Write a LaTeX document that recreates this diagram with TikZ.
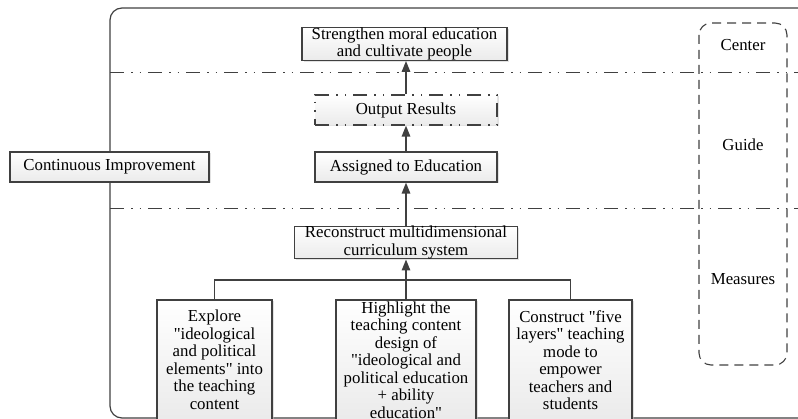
\documentclass[tikz,border=0pt]{standalone}
\usepackage{fontspec}
\setmainfont{Liberation Serif}
\usetikzlibrary{arrows.meta,shadows}
\definecolor{linegray}{HTML}{404040}
\newcommand{\qt}{\textquotedbl}
\tikzset{
  box/.style={draw=linegray, line width=1.2pt, top color=white, bottom color=gray!16,
    drop shadow={shadow xshift=1.5pt, shadow yshift=-1.5pt, fill=gray!45},
    align=center, inner sep=0pt, font=\fontsize{16.8}{17.5}\selectfont},
  dashbox/.style={box, dash pattern=on 14pt off 7pt on 1.5pt off 7pt on 1.5pt off 7pt},
  sepline/.style={draw=linegray, line width=1pt, dash pattern=on 14pt off 7pt on 1.5pt off 7pt on 1.5pt off 7pt},
  lab/.style={font=\fontsize{16.8}{17.5}\selectfont},
  flow/.style={draw=linegray, line width=1.5pt, -{Triangle[length=11pt,width=8.5pt]}},
  link/.style={draw=linegray, line width=1.2pt}
}
\begin{document}
\begin{tikzpicture}[x=1pt,y=-1pt]
  \useasboundingbox (0,0) rectangle (798,419);
  \clip (0,0) rectangle (798,419);

  % frame and layer separators
  \draw [link, rounded corners=12pt] (110,8) rectangle (812,418);
  \draw [sepline] (110,73) -- (798,73);
  \draw [sepline] (110,209) -- (798,209);

  % layer names
  \draw [draw=linegray, line width=1.1pt, dash pattern=on 9pt off 6pt, rounded corners=12pt] (699,23) rectangle (787,365);
  \node [lab] (center) at (743,45) {Center};
  \node [lab] (guide) at (743,145) {Guide};
  \node [lab] (measures) at (743,279) {Measures};

  % main chain
  \node [box, minimum width=205, minimum height=32] (goal) at (404.5,44) {Strengthen moral education\\and cultivate people};
  \node [dashbox, minimum width=182, minimum height=30] (output) at (406,110) {Output Results};
  \node [box, minimum width=182, minimum height=30] (assigned) at (406,167) {Assigned to Education};
  \node [box, minimum width=199, minimum height=30] (improve) at (109.5,167) {Continuous Improvement};
  \node [box, minimum width=223, minimum height=31] (reconstruct) at (406,242.5) {Reconstruct multidimensional\\curriculum system};

  % measures
  \node [box, minimum width=115, minimum height=120] (explore) at (214.5,360) {Explore\\\qt ideological\\and political\\elements\qt{} into\\the teaching\\content};
  \node [box, minimum width=140, minimum height=120] (highlight) at (406,360) {Highlight the\\teaching content\\design of\\\qt ideological and\\political education\\+ ability\\education\qt};
  \node [box, minimum width=123, minimum height=120] (construct) at (570.5,360) {Construct \qt five\\layers\qt{} teaching\\mode to\\empower\\teachers and\\students};

  \coordinate (bar) at (406,280);
  \draw [link] (explore.north) |- (bar) -| (construct.north);
  \draw [flow] (highlight.north) -- (reconstruct.south);
  \draw [flow] (reconstruct.north) -- (assigned.south);
  \draw [flow] (assigned.north) -- (output.south);
  \draw [flow] (output.north) -- (output.north |- goal.south);
\end{tikzpicture}
\end{document}
